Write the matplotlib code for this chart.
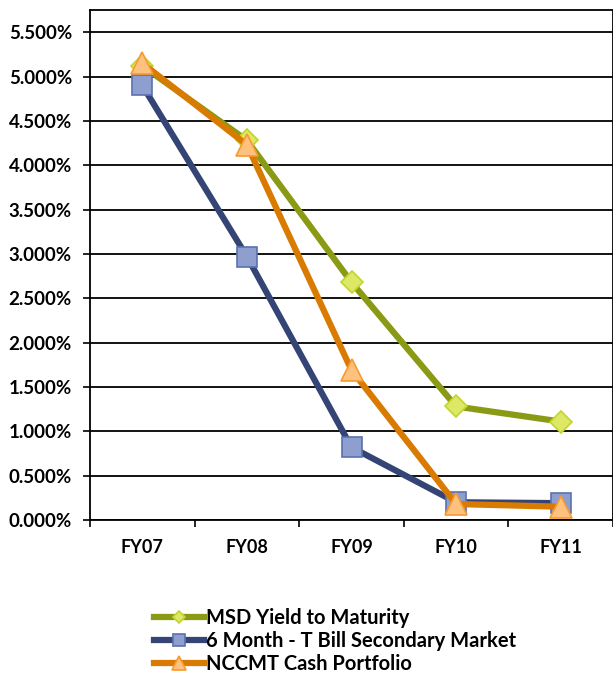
import matplotlib
matplotlib.use("Agg")
import matplotlib.pyplot as plt
from matplotlib.ticker import FuncFormatter, MultipleLocator

plt.rcParams['font.family'] = ['Lato', 'DejaVu Sans']

years = ["FY07", "FY08", "FY09", "FY10", "FY11"]
msd_ytm = [5.12, 4.28, 2.68, 1.28, 1.11]
tbill_6m = [4.90, 2.97, 0.82, 0.20, 0.19]
nccmt_cash = [5.15, 4.23, 1.69, 0.18, 0.15]

fig = plt.figure(figsize=(6.13, 6.83), dpi=100)
ax = fig.add_axes([90 / 613, 1 - 520 / 683, 523 / 613, 510 / 683])

x = list(range(len(years)))
ax.plot(x, msd_ytm, '-D', color="#8A9A14", linewidth=4.5,
        markersize=11, markerfacecolor="#DCE866", markeredgecolor="#C4D42C",
        markeredgewidth=1.2, label="MSD Yield to Maturity", zorder=3)
ax.plot(x, tbill_6m, '-s', color="#344575", linewidth=4.5,
        markersize=15, markerfacecolor="#8E9FCF", markeredgecolor="#5A72AE",
        markeredgewidth=1.2, label="6 Month - T Bill Secondary Market", zorder=4)
ax.plot(x, nccmt_cash, '-^', color="#D97B00", linewidth=4.5,
        markersize=16, markerfacecolor="#FFC27E", markeredgecolor="#F79A30",
        markeredgewidth=1.2, label="NCCMT Cash Portfolio", zorder=5)

ax.set_xlim(-0.5, 4.5)
ax.set_ylim(0, 5.75)
ax.set_xticks(x)
ax.set_xticklabels(years, fontsize=13, fontweight="bold")
ax.set_xticks([i - 0.5 for i in range(len(years) + 1)], minor=True)
ax.tick_params(axis="x", which="major", length=0, pad=14)
ax.tick_params(axis="x", which="minor", length=5, width=1.2, direction="out")
ax.yaxis.set_major_locator(MultipleLocator(0.5))
ax.yaxis.set_major_formatter(FuncFormatter(lambda v, p: f"{v:.3f}%"))
ax.tick_params(axis="y", length=5, width=1.2, direction="out", labelsize=13.5,
               pad=8)
for lab in ax.get_yticklabels():
    lab.set_fontweight("bold")

ax.grid(True, axis="y", color="black", linewidth=1.3)
ax.set_axisbelow(True)
for s in ax.spines.values():
    s.set_color("black")
    s.set_linewidth(1.3)

leg = fig.legend(loc="upper left", bbox_to_anchor=(136 / 613, 1 - 590 / 683),
                 frameon=False, handlelength=2.5, handletextpad=0.1,
                 labelspacing=0.15, markerscale=0.6,
                 prop={"weight": "bold", "size": 14.5})

fig.savefig("out.png", dpi=100)
